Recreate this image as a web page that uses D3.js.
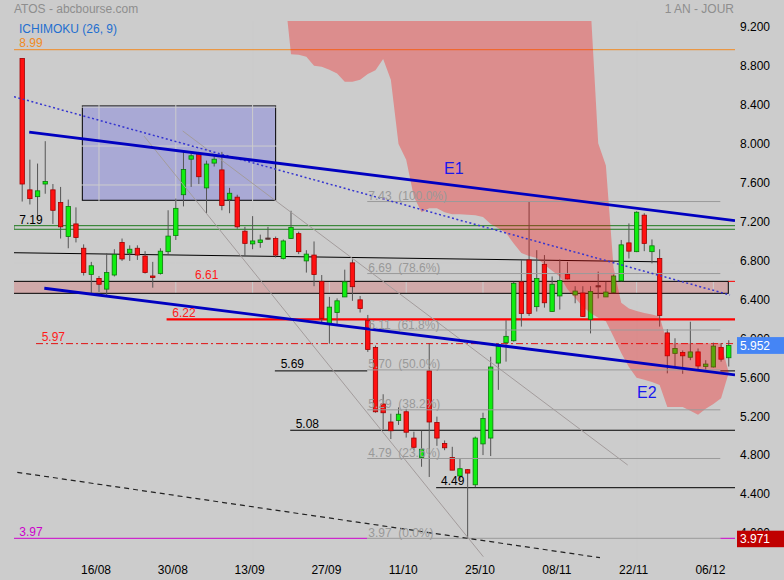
<!DOCTYPE html>
<html><head><meta charset="utf-8">
<script src="https://cdn.jsdelivr.net/npm/d3@7"></script>
<style>
html,body{margin:0;padding:0;background:#cccccc;}
svg{display:block;font-family:"Liberation Sans",Arial,sans-serif;}
</style></head><body>
<svg id="chart" width="784" height="580"></svg>
<script>
// ---------- DATA ----------
const xTickIndex  = [10, 20, 30, 40, 50, 60, 70, 80, 90];
const xTickLabels = ["16/08","30/08","13/09","27/09","11/10","25/10","08/11","22/11","06/12"];
const yTicks = [9.2, 8.8, 8.4, 8.0, 7.6, 7.2, 6.8, 6.4, 6.0, 5.6, 5.2, 4.8, 4.4, 4.0];

const open  = [8.90,7.55,7.48,7.61,7.55,7.42,7.07,7.20,6.95,6.68,6.64,6.53,6.675,7.01,6.90,6.95,6.87,6.665,6.69,6.915,
               7.08,7.50,7.865,7.92,7.57,7.825,7.755,7.45,7.475,7.125,6.995,7.01,7.05,7.05,6.845,7.05,7.10,6.82,6.88,6.61,
               6.17,6.29,6.45,6.80,6.42,6.21,5.93,5.35,5.165,5.18,5.27,5.00,4.80,5.69,5.16,4.945,4.80,4.61,4.675,4.52,
               4.94,5.00,5.77,5.98,6.00,6.605,6.83,6.35,6.785,6.30,6.46,6.68,6.47,6.49,6.22,6.555,6.45,6.495,6.615,7.005,
               6.915,7.29,6.915,6.845,6.08,5.87,5.88,5.83,5.885,5.735,5.73,5.93,5.825];
const high  = [8.90,7.86,7.82,8.05,7.61,7.58,7.45,7.37,6.99,6.81,6.665,6.90,6.94,7.05,6.98,6.98,6.92,6.81,6.95,7.34,
               7.46,7.94,7.94,7.94,7.85,7.91,7.94,7.57,7.50,7.17,7.28,7.09,7.17,7.07,7.04,7.335,7.12,6.93,7.02,6.675,
               6.45,6.435,6.73,6.835,6.46,6.265,5.95,5.45,5.25,5.315,5.30,5.065,5.075,5.97,5.22,4.975,4.91,4.79,4.68,5.015,
               5.26,5.835,5.975,6.21,6.605,6.83,7.43,6.93,6.88,6.66,6.835,6.81,6.56,6.56,6.56,6.71,6.605,6.68,7.035,7.205,
               7.33,7.31,7.04,6.94,6.12,6.025,5.90,6.195,5.92,5.80,5.98,5.975,6.005];
const low   = [7.43,7.40,7.25,7.51,7.20,7.05,6.95,7.01,6.67,6.49,6.50,6.47,6.66,6.82,6.82,6.83,6.69,6.545,6.68,6.89,
               7.035,7.38,7.58,7.61,7.31,7.79,7.34,7.31,7.15,6.87,6.94,6.955,7.04,6.855,6.835,7.045,6.89,6.70,6.56,6.18,
               5.97,6.16,6.45,6.41,6.29,5.885,5.26,5.09,4.99,5.135,5.005,4.875,4.705,4.60,4.92,4.875,4.67,4.57,3.97,4.495,
               4.825,4.815,5.495,5.785,5.99,6.145,6.255,6.30,6.34,6.295,6.32,6.63,6.385,6.245,6.075,6.435,6.45,6.49,6.61,6.845,
               6.91,6.92,6.795,6.145,5.665,5.735,5.66,5.80,5.705,5.68,5.725,5.785,5.735];
const close = [7.61,7.46,7.54,7.635,7.34,7.17,7.38,7.06,6.70,6.77,6.58,6.70,6.885,6.84,6.94,6.88,6.70,6.65,6.92,7.075,
               7.36,7.76,7.90,7.685,7.815,7.865,7.39,7.515,7.17,7.00,7.025,7.035,7.055,6.88,7.025,7.165,6.915,6.89,6.68,6.23,
               6.345,6.41,6.605,6.555,6.33,5.91,5.27,5.26,5.075,5.245,5.06,4.905,4.885,5.165,5.00,4.90,4.67,4.685,4.64,5.00,
               5.20,5.73,5.94,6.045,6.59,6.28,6.28,6.64,6.39,6.58,6.62,6.635,6.51,6.25,6.505,6.565,6.50,6.665,6.985,6.92,
               7.32,7.00,6.975,6.26,5.845,5.92,5.845,5.885,5.74,5.76,5.945,5.81,5.952];

// Ichimoku cloud (senkou spans), starting at candle index 34
const cloudStart = 34;
const senkouUpper = [9.9,9.9,9.9,9.9,9.9,9.9,9.9,9.9,9.9,9.9,9.9,9.9,9.9,9.9,9.9,9.9,9.9,9.9,9.9,9.9,
                     9.9,9.9,9.9,9.9,9.9,9.9,9.9,9.9,9.9,9.9,9.9,9.9,9.9,9.9,9.9,9.9,9.9,9.9,9.9,9.9,
                     9.45,8.03,7.80,6.75,6.39,6.33,6.305,6.285,6.27,6.25,5.975,5.975,5.975,5.975,5.975,5.975,5.975,5.975,5.67];
const senkouLower = [9.7,8.942,8.938,8.917,8.825,8.815,8.785,8.745,8.66,8.66,8.68,8.74,8.78,8.895,8.68,8.02,7.86,7.48,7.32,7.36,
                     7.36,7.32,7.30,7.30,7.295,7.29,7.27,7.20,7.155,7.107,7.00,6.90,6.87,6.85,6.78,6.72,6.66,6.53,6.44,6.35,
                     6.285,6.235,6.20,6.04,5.875,5.73,5.62,5.60,5.575,5.545,5.32,5.32,5.32,5.28,5.24,5.30,5.35,5.41,5.67];

// Fibonacci retracement
const fibValues = [7.43, 6.69, 6.11, 5.70, 5.29, 4.79, 3.97];
const fibPct    = ["100.0%","78.6%","61.8%","50.0%","38.2%","23.6%","0.0%"];

// horizontal levels
const levelValues = [8.99, 6.22, 5.97, 5.69, 5.08, 4.49, 3.97];
const levelLabels = ["8.99","6.22","5.97","5.69","5.08","4.49","3.97"];
const levelStart  = [-1.07, 18.8, 1.8, 32.9, 34.9, 53.9, -1.07];

const lastPrice = 5.952, lowPrice = 3.971;

// ---------- SCALES ----------
const svg = d3.select("#chart");
const x = d3.scaleLinear().domain([0, 92]).range([22.2, 728.76]);
const y = d3.scaleLinear().domain([3.97, 8.99]).range([538.3, 49.7]);
const L = 14, R = 735, T = 21, B = 560;
const xEnd = x.invert(R), xBeg = x.invert(L);
const fibFrom = 44.93, fibTo = 90.9;

svg.append("rect").attr("width",784).attr("height",580).attr("fill","#cccccc");
svg.append("defs").append("clipPath").attr("id","plot")
  .append("rect").attr("x",L).attr("y",T).attr("width",R-L).attr("height",B-T);
const g = svg.append("g").attr("clip-path","url(#plot)");

// purple box
g.append("rect").attr("x",x(7.83)).attr("y",y(8.412))
  .attr("width",x(33.0)-x(7.83)).attr("height",y(7.443)-y(8.412))
  .attr("fill","#a9a9d5").attr("stroke","#000").attr("stroke-width",1);
// pink band 6.49-6.61
g.append("rect").attr("x",L).attr("y",y(6.61)).attr("width",x(91.94)-L).attr("height",y(6.487)-y(6.61))
  .attr("fill","#d0a9a9");

// grid
g.selectAll(".hg").data(yTicks).enter().append("line")
  .attr("x1",L).attr("x2",R).attr("y1",d=>y(d)).attr("y2",d=>y(d))
  .attr("stroke","#cccccc").attr("stroke-width",1);
g.selectAll(".vg").data(xTickIndex).enter().append("line")
  .attr("x1",d=>x(d)).attr("x2",d=>x(d)).attr("y1",T).attr("y2",B)
  .attr("stroke","#cccccc").attr("stroke-width",1);

// pink band outline
g.append("rect").attr("x",L-2).attr("y",y(6.61)).attr("width",x(91.94)-L+2).attr("height",y(6.487)-y(6.61))
  .attr("fill","none").attr("stroke","#000").attr("stroke-width",1);
g.append("line").attr("x1",x(91.94)).attr("x2",R).attr("y1",y(6.61)).attr("y2",y(6.61)).attr("stroke","#ff0000");
// green band
g.append("rect").attr("x",L).attr("y",y(7.182)).attr("width",R-L+2).attr("height",y(7.145)-y(7.182))
  .attr("fill","none").attr("stroke","#1e7a1e").attr("stroke-width",1);
// sloping black line
g.append("line").attr("x1",x(xBeg)).attr("y1",y(6.904)).attr("x2",x(82.79)).attr("y2",y(6.811))
  .attr("stroke","#000").attr("stroke-width",1);
g.append("line").attr("x1",x(82.79)).attr("x2",x(82.79)).attr("y1",y(6.811)-1).attr("y2",y(6.78))
  .attr("stroke","#000");

// horizontal levels (5.69 and 3.97 are hidden by the fib lines between fibFrom and fibTo)
const levelStyle = [
  {c:"#f08a24",w:1,d:null},{c:"#ff0000",w:2.2,d:null},{c:"#e01010",w:1,d:"7,3,2,3"},
  {c:"#000",w:1,d:null},{c:"#000",w:1,d:null},{c:"#000",w:1,d:null},{c:"#cc00cc",w:1,d:null}];
const hiddenUnderFib = [false,false,false,true,false,false,true];
levelValues.forEach((v,i)=>{
  const segs = hiddenUnderFib[i] ? [[levelStart[i], fibFrom],[fibTo, xEnd]] : [[levelStart[i], xEnd]];
  segs.forEach(s=>{
    const ln = g.append("line").attr("x1",x(s[0])).attr("x2",x(s[1]))
      .attr("y1",y(v)).attr("y2",y(v)).attr("stroke",levelStyle[i].c).attr("stroke-width",levelStyle[i].w);
    if (levelStyle[i].d) ln.attr("stroke-dasharray",levelStyle[i].d);
  });
});

// candles
const idx = d3.range(open.length);
const cg = g.append("g");
cg.selectAll(".wick").data(idx).enter().append("line")
  .attr("x1",i=>x(i)).attr("x2",i=>x(i)).attr("y1",i=>y(high[i])).attr("y2",i=>y(low[i]))
  .attr("stroke","#555").attr("stroke-width",1);
const kind = i => Math.abs(close[i]-open[i]) < 0.012 ? "doji" : (close[i] > open[i] ? "up" : "down");
cg.selectAll(".body").data(idx).enter().append("rect")
  .attr("x",i=>x(i)-2.2).attr("width",4.4)
  .attr("y",i=>y(Math.max(open[i],close[i])))
  .attr("height",i=>Math.max(1.2, Math.abs(y(open[i])-y(close[i]))))
  .attr("fill",i=>kind(i)==="up"?"#10ee10":kind(i)==="down"?"#ff1010":"#553333")
  .attr("stroke",i=>kind(i)==="up"?"#0a7a0a":kind(i)==="down"?"#a00000":"#553333")
  .attr("stroke-width",0.8);

// Ichimoku cloud
const cloudIdx = d3.range(senkouUpper.length);
const area = d3.area()
  .x(j=>x(cloudStart+j)).y0(j=>y(senkouLower[j])).y1(j=>y(senkouUpper[j]));
g.append("path").datum(cloudIdx).attr("d",area).attr("fill","rgba(255,0,0,0.31)");

// fib lines
g.selectAll(".fib").data(fibValues).enter().append("line")
  .attr("x1",x(fibFrom)).attr("x2",x(fibTo)).attr("y1",d=>y(d)).attr("y2",d=>y(d))
  .attr("stroke","#9a9a9a").attr("stroke-width",1);

// fan lines (gray)
const fan = [[[15.86,8.103],[60.04,3.781]],[[20.9,8.155],[78.84,4.723]]];
fan.forEach(s=>g.append("line").attr("x1",x(s[0][0])).attr("y1",y(s[0][1])).attr("x2",x(s[1][0])).attr("y2",y(s[1][1]))
  .attr("stroke","#a39c9c").attr("stroke-width",1));

// dashed black
g.append("line").attr("x1",x(-0.64)).attr("y1",y(4.648)).attr("x2",x(75.23)).attr("y2",y(3.771))
  .attr("stroke","#222").attr("stroke-width",1.2).attr("stroke-dasharray","5,4");
// dotted blue
g.append("line").attr("x1",x(xBeg)).attr("y1",y(8.507)).attr("x2",x(92.16)).attr("y2",y(6.470))
  .attr("stroke","#3535d0").attr("stroke-width",1.5).attr("stroke-dasharray","2,2.5");
// E1, E2
g.append("line").attr("x1",x(0.92)).attr("y1",y(8.144)).attr("x2",x(xEnd)).attr("y2",y(7.233))
  .attr("stroke","#0000c0").attr("stroke-width",2.8);
g.append("line").attr("x1",x(2.88)).attr("y1",y(6.539)).attr("x2",x(xEnd)).attr("y2",y(5.648))
  .attr("stroke","#0000c0").attr("stroke-width",2.8);

// ---------- TEXT ----------
const txt = (t,px,py,col,size,anchor)=>svg.append("text").attr("x",px).attr("y",py).attr("fill",col)
  .attr("font-size",size||12).attr("text-anchor",anchor||"start").text(t);

fibValues.forEach((v,i)=>txt(v.toFixed(2)+"\u00a0\u00a0("+fibPct[i]+")", x(fibFrom)+1, y(v)-1.5, "#999999"));

const levelLabelX = [19.3, 172.3, 41.7, 280.7, 295.7, 441, 19.3];
const levelLabelCol = ["#f08a24","#ff1a1a","#ff1a1a","#000","#000","#000","#cc00cc"];
levelLabels.forEach((t,i)=>txt(t, levelLabelX[i], y(levelValues[i])-2.5, levelLabelCol[i]));
txt("7.19", 19.3, y(7.182)-2, "#000");
txt("6.61", 195, y(6.61)-2.5, "#ff1a1a");
txt("E1", 444, 173.5, "#1818ee", 16);
txt("E2", 637, 397.5, "#1818ee", 16);

txt("ATOS - abcbourse.com", 14, 13, "#8e8e8e");
txt("1 AN - JOUR", 734, 13, "#8e8e8e", 12, "end");
txt("ICHIMOKU (26, 9)", 19, 33, "#1f6fd0");

// axes
const yAxis = d3.axisRight(y).tickValues(yTicks).tickFormat(d3.format(".3f")).tickSize(0).tickPadding(5);
const ya = svg.append("g").attr("transform",`translate(${R},0)`).call(yAxis);
ya.select(".domain").remove();
ya.selectAll("text").attr("font-size",12).attr("font-family","Liberation Sans, Arial, sans-serif")
  .attr("fill","#000").attr("dy","0.12em");

const xAxis = d3.axisBottom(x).tickValues(xTickIndex).tickFormat((d,i)=>xTickLabels[i]).tickSize(0).tickPadding(9);
const xa = svg.append("g").attr("transform",`translate(-3.5,556.5)`).call(xAxis);
xa.select(".domain").remove();
xa.selectAll("text").attr("font-size",12).attr("font-family","Liberation Sans, Arial, sans-serif").attr("fill","#000");

// price boxes (cover part of the 6.000 and 4.000 tick labels, as in the original)
svg.append("rect").attr("x",737).attr("y",y(lastPrice)-8.3).attr("width",47).attr("height",16.8).attr("fill","#4585f5");
txt(lastPrice.toFixed(3), 740, y(lastPrice)+4.5, "#ffffff");
svg.append("rect").attr("x",737).attr("y",y(lowPrice)-7.5).attr("width",47).attr("height",16.5).attr("fill","#c00000");
txt(lowPrice.toFixed(3), 740, y(lowPrice)+5, "#ffffff");
</script>
</body></html>
